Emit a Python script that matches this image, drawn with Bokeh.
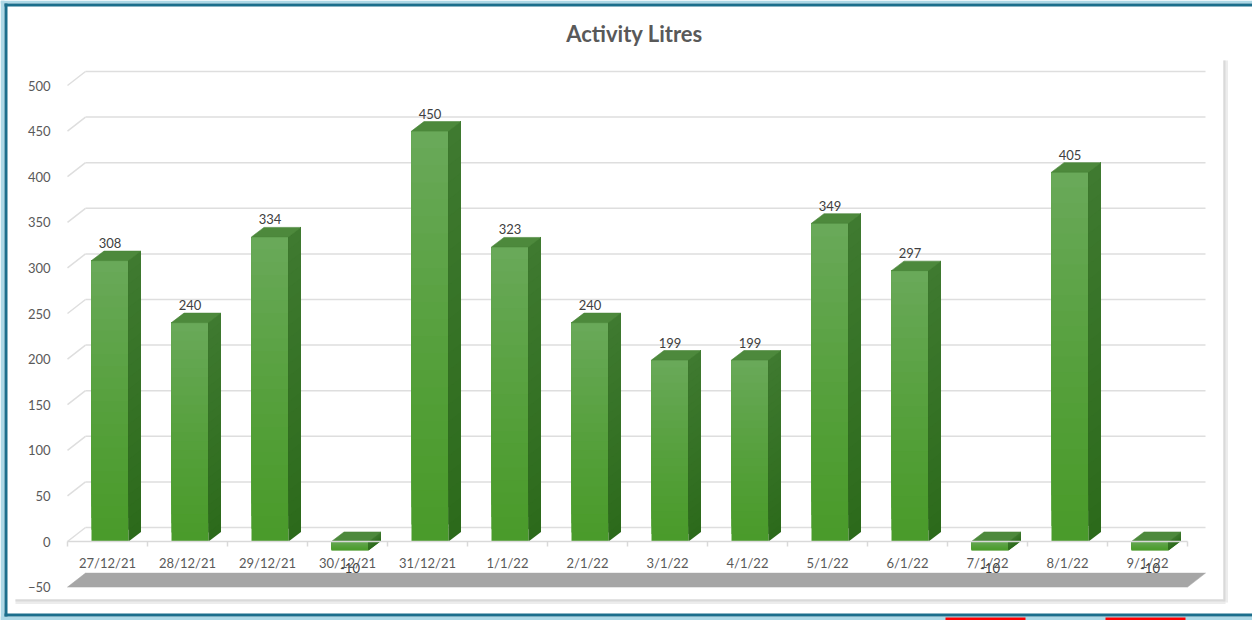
from bokeh.plotting import figure
from bokeh.models import Range1d, FixedTicker, ColumnDataSource, Label
from bokeh.core.properties import value
from bokeh.embed import file_html
from bokeh.resources import INLINE

# ---------------- data ----------------
dates = ["27/12/21", "28/12/21", "29/12/21", "30/12/21", "31/12/21", "1/1/22", "2/1/22",
         "3/1/22", "4/1/22", "5/1/22", "6/1/22", "7/1/22", "8/1/22", "9/1/22"]
litres = [308, 240, 334, -10, 450, 323, 240, 199, 199, 349, 297, -10, 405, -10]
y_ticks = [-50, 0, 50, 100, 150, 200, 250, 300, 350, 400, 450, 500]
title_text = "Activity Litres"

# ---------------- layout helpers ----------------
W, H = 1252, 620
X0, PX_CAT = 107.0, 80.0     # pixel of category 0 centre, pixels per category
Y0, PX_UNIT = 541.0, 0.912   # pixel of value 0, pixels per litre

def px_x(px):
    return (px - X0) / PX_CAT

def px_v(py):
    return (Y0 - py) / PX_UNIT

FONT = "Lato"
n = len(dates)
GDX, GDY = 18 / PX_CAT, 14 / PX_UNIT     # wall / floor depth
BDX, BDY = 12.5 / PX_CAT, 9.5 / PX_UNIT  # bar depth
BL, BR = -16 / PX_CAT, 21 / PX_CAT       # bar front face edges relative to category

def mix(c1, c2, t):
    a = [int(c1[i:i + 2], 16) for i in (1, 3, 5)]
    b = [int(c2[i:i + 2], 16) for i in (1, 3, 5)]
    return "#%02x%02x%02x" % tuple(round(a[i] + (b[i] - a[i]) * t) for i in range(3))

p = figure(width=W, height=H, x_range=Range1d(px_x(0), px_x(W)), y_range=Range1d(px_v(H), px_v(0)),
           output_backend="svg", toolbar_location=None, min_border=0)
p.grid.visible = False
p.outline_line_color = None
p.background_fill_color = "white"
p.border_fill_color = "white"

def box(x0, y0, x1, y1, color):
    p.quad(left=[px_x(x0)], right=[px_x(x1)], top=[px_v(y0)], bottom=[px_v(y1)],
           fill_color=color, line_color=None)

# page frame
box(0, 0, 4, 620, "#add8e6")
box(0, 0, 1252, 3, "#add8e6")
box(0, 616, 1252, 620, "#add8e6")
box(4, 3, 7, 616, "#1b6e8c")
box(4, 3, 1252, 6, "#1b6e8c")
box(4, 613, 1252, 616, "#1b6e8c")
box(945, 617, 1025, 620, "#ff0000")
box(1105, 617, 1185, 620, "#ff0000")

# plot-area shadow
p.segment(x0=[px_x(1225)], y0=[px_v(60)], x1=[px_x(1225)], y1=[px_v(602)], line_color="#ececec", line_width=5)
p.segment(x0=[px_x(15)], y0=[px_v(601)], x1=[px_x(1225)], y1=[px_v(601)], line_color="#ececec", line_width=5)
p.segment(x0=[px_x(1224)], y0=[px_v(60)], x1=[px_x(1224)], y1=[px_v(601)], line_color="#d9d9d9", line_width=2)
p.segment(x0=[px_x(15)], y0=[px_v(600)], x1=[px_x(1224)], y1=[px_v(600)], line_color="#d9d9d9", line_width=2)

# back wall gridlines and left diagonals
gv = [v for v in y_ticks if v >= 0]
p.segment(x0=[-0.5 + GDX] * len(gv), y0=[v + GDY for v in gv], x1=[n - 0.5 + GDX] * len(gv),
          y1=[v + GDY for v in gv], line_color="#dedede", line_width=1.5)
p.segment(x0=[-0.5] * len(gv), y0=gv, x1=[-0.5 + GDX] * len(gv), y1=[v + GDY for v in gv],
          line_color="#dedede", line_width=1.5)

# floor
fy = y_ticks[0]
p.patch([-0.5, n - 0.5, n - 0.5 + GDX, -0.5 + GDX], [fy, fy, fy + GDY, fy + GDY],
        fill_color="#a6a6a6", line_color="#a6a6a6", line_width=0.5)

# bars (gradient built from overlapping slices, each running up to the bar top)
NS = 24
fq = dict(left=[], right=[], bottom=[], top=[], color=[])
sx, sy, sc = [], [], []
tx, ty = [], []
for k, v in enumerate(litres):
    top, bot = max(v, 0), min(v, 0)
    l, r = k + BL, k + BR
    for j in range(NS):
        y_a = bot + (top - bot) * j / NS
        t = (j + 0.5) / NS
        fq["left"].append(l); fq["right"].append(r)
        fq["bottom"].append(y_a); fq["top"].append(top)
        fq["color"].append(mix("#4a9b2b", "#6aa95a", t ** 1.3))
        sx.append([r, r + BDX, r + BDX, r])
        sy.append([y_a, y_a + BDY, top + BDY, top])
        sc.append(mix("#2c6a1b", "#3f7a30", t))
    tx.append([l, r, r + BDX, l + BDX])
    ty.append([top, top, top + BDY, top + BDY])

p.quad(source=ColumnDataSource(fq), left="left", right="right", bottom="bottom", top="top",
       fill_color="color", line_color=None)
p.patches(xs=sx, ys=sy, fill_color=sc, line_color=None)
p.patches(xs=tx, ys=ty, fill_color="#4d893c", line_color="#4a8539", line_width=0.6)

# data labels
lab = ColumnDataSource(dict(
    x=[k + (BL + BR) / 2 for k in range(n)],
    y=[(v + BDY) if v >= 0 else v for v in litres],
    off=[-8 if v >= 0 else 17 for v in litres],
    text=[str(v) for v in litres],
))
p.text(x="x", y="y", text="text", y_offset="off", source=lab, text_align="center", text_baseline="middle",
       text_font=value(FONT), text_font_size="13px", text_color="#404040")

# axes
ya = p.yaxis[0]
ya.fixed_location = px_x(62)
ya.ticker = FixedTicker(ticks=y_ticks)
ya.axis_line_color = None
ya.major_tick_line_color = None
ya.minor_tick_line_color = None
ya.major_label_standoff = 6
ya.major_label_text_font = FONT
ya.major_label_text_font_size = "13px"
ya.major_label_text_color = "#595959"

xa = p.xaxis[0]
xa.fixed_location = 0
xa.ticker = FixedTicker(ticks=list(range(n)), minor_ticks=[k - 0.5 for k in range(n + 1)])
xa.major_label_overrides = {k: d for k, d in enumerate(dates)}
xa.bounds = (-0.5, n - 0.5)
xa.axis_line_color = "#d9d9d9"
xa.axis_line_width = 1.5
xa.major_tick_line_color = None
xa.major_tick_out = 0
xa.major_tick_in = 0
xa.minor_tick_line_color = "#d9d9d9"
xa.minor_tick_line_width = 1.5
xa.minor_tick_out = 5
xa.minor_tick_in = 0
xa.major_label_standoff = 8
xa.major_label_text_font = FONT
xa.major_label_text_font_size = "13px"
xa.major_label_text_color = "#595959"

p.add_layout(Label(x=px_x(634), y=px_v(33), text=title_text, text_align="center", text_baseline="middle",
                   text_font=FONT, text_font_size="22px", text_font_style="bold", text_color="#595959"))

open("out.html", "w").write(file_html(p, INLINE))
